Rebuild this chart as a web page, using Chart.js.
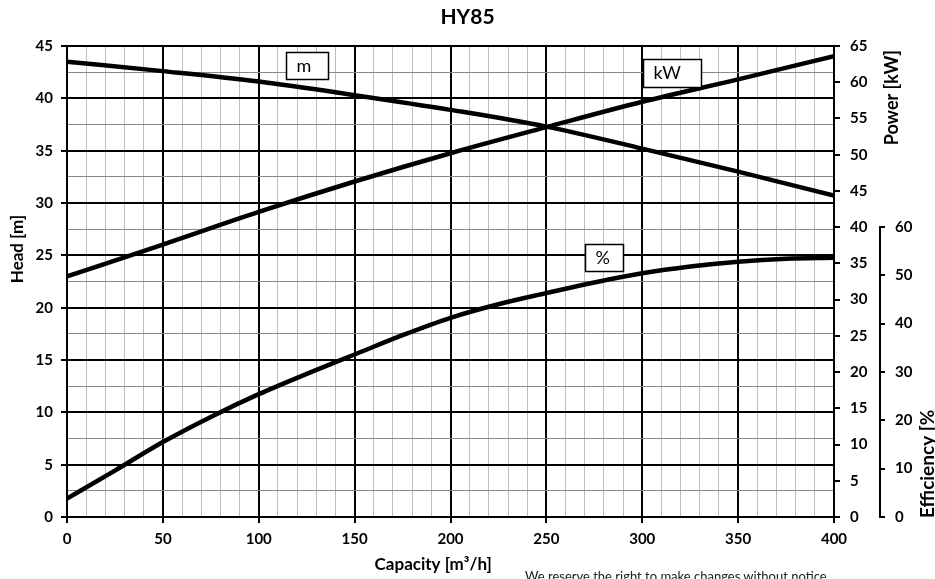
<!DOCTYPE html>
<html>
<head>
<meta charset="utf-8">
<title>HY85</title>
<script src="https://cdn.jsdelivr.net/npm/chart.js@4.4.1/dist/chart.umd.min.js"></script>
<style>
  html, body { margin: 0; padding: 0; background: #fff; overflow: hidden; }
  #wrap { position: relative; width: 935px; height: 579px; }
  #note { position: absolute; left: 525px; top: 568px; font: 13px Lato, sans-serif; color: #222; white-space: nowrap; }
</style>
</head>
<body>
<div id="wrap">
  <canvas id="pumpChart"></canvas>
  <div id="note">We reserve the right to make changes without notice</div>
</div>
<script>
// Pump curve values
const flowPoints  = [0, 50, 100, 150, 200, 250, 300, 350, 400];
const headValues  = [43.5, 42.6, 41.6, 40.3, 38.9, 37.3, 35.2, 33.0, 30.7];
const powerValues = [33.2, 37.6, 42.1, 46.3, 50.2, 53.8, 57.3, 60.4, 63.6];

const effFlowPoints = [0, 25, 50, 75, 100, 125, 150, 175, 200, 225, 250, 275, 300, 325, 350, 375, 400];
const effValues     = [3.8, 9.6, 15.5, 20.7, 25.4, 29.6, 33.6, 37.6, 41.2, 44.0, 46.3, 48.5, 50.4, 51.8, 52.8, 53.4, 53.6];

// tick labels
const flowTickLabels  = [0, 50, 100, 150, 200, 250, 300, 350, 400];
const headTickLabels  = [0, 5, 10, 15, 20, 25, 30, 35, 40, 45];
const powerTickLabels = [0, 5, 10, 15, 20, 25, 30, 35, 40, 45, 50, 55, 60, 65];
const effTickLabels   = [0, 10, 20, 30, 40, 50, 60];

// little boxed curve names (top-left corner in data units of capacity / head)
const curveTags = [
    { text: 'm',  flow: 114.3, head: 44.4, w: 42, h: 27 },
    { text: 'kW', flow: 300.6, head: 43.8, w: 58, h: 28 },
    { text: '%',  flow: 270.2, head: 26.1, w: 38, h: 27 }
];

// the efficiency scale only covers the lower part of the plot
const EFF_AXIS_MAX = 97.4;

Chart.defaults.font.family = 'Lato, "Open Sans", sans-serif';
Chart.defaults.color = '#000';

const toPoints = (xs, ys) => ys.map((v, i) => ({ x: xs[i], y: v }));

const isMajor = (val, step) => Math.abs(val / step - Math.round(val / step)) < 1e-6;

const curveStyle = {
    borderColor: '#000',
    borderWidth: 4.5,
    pointRadius: 0,
    fill: false,
    cubicInterpolationMode: 'monotone'
};

// draws the boxed tags, the short efficiency axis line and the axis titles
const decorPlugin = {
    id: 'decor',
    afterDatasetsDraw(chart) {
        const { ctx, scales } = chart;
        ctx.save();
        curveTags.forEach(t => {
            const px = Math.round(scales.x.getPixelForValue(t.flow)) + 0.5;
            const py = Math.round(scales.head.getPixelForValue(t.head)) + 0.5;
            ctx.fillStyle = '#fff';
            ctx.fillRect(px, py, t.w, t.h);
            ctx.strokeStyle = '#000';
            ctx.lineWidth = 1.5;
            ctx.strokeRect(px, py, t.w, t.h);
            ctx.fillStyle = '#000';
            ctx.font = '18px Lato, sans-serif';
            ctx.textAlign = 'left';
            ctx.textBaseline = 'middle';
            ctx.fillText(t.text, px + 10, py + t.h / 2);
        });
        ctx.restore();
    },
    afterDraw(chart) {
        const { ctx, chartArea, scales } = chart;
        const eff = scales.eff;
        ctx.save();

        // efficiency axis line, 0..60 only
        const top = eff.getPixelForValue(effTickLabels[effTickLabels.length - 1]);
        const bottom = eff.getPixelForValue(0);
        ctx.strokeStyle = '#000';
        ctx.lineWidth = 2;
        ctx.beginPath();
        ctx.moveTo(eff.left + 1, top);
        ctx.lineTo(eff.left + 1, bottom + 1);
        ctx.stroke();

        ctx.fillStyle = '#000';
        ctx.font = 'bold 17px Lato, sans-serif';

        // x title
        ctx.textAlign = 'center';
        ctx.textBaseline = 'middle';
        ctx.fillText('Capacity [m³/h]', scales.x.getPixelForValue(191), chartArea.bottom + 48);

        // head title
        ctx.save();
        ctx.translate(18, scales.head.getPixelForValue(25.6));
        ctx.rotate(-Math.PI / 2);
        ctx.fillText('Head [m]', 0, 0);
        ctx.restore();

        // power title, reads upwards, flush with the top of the plot
        ctx.save();
        ctx.translate(892, chartArea.top + 4);
        ctx.rotate(-Math.PI / 2);
        ctx.textAlign = 'right';
        ctx.font = 'bold 18px Lato, sans-serif';
        ctx.fillText('Power [kW]', 0, 0);
        ctx.restore();

        // efficiency title, flush with the bottom
        ctx.save();
        ctx.translate(934, bottom + 1);
        ctx.rotate(-Math.PI / 2);
        ctx.textAlign = 'left';
        ctx.textBaseline = 'alphabetic';
        ctx.font = 'bold 19px Lato, sans-serif';
        ctx.fillText('Efficiency [%', 0, 0);
        ctx.restore();

        ctx.restore();
    }
};

const tickFont = { size: 15, weight: 'bold' };

new Chart(document.getElementById('pumpChart'), {
    type: 'line',
    data: {
        datasets: [
            { ...curveStyle, label: 'Head', data: toPoints(flowPoints, headValues), yAxisID: 'head' },
            { ...curveStyle, label: 'Power', data: toPoints(flowPoints, powerValues), yAxisID: 'power' },
            { ...curveStyle, label: 'Efficiency', data: toPoints(effFlowPoints, effValues), yAxisID: 'eff' }
        ]
    },
    options: {
        responsive: true,
        maintainAspectRatio: false,
        animation: false,
        layout: { padding: 0 },
        plugins: {
            legend: { display: false },
            tooltip: { enabled: false },
            title: {
                display: true,
                text: 'HY85',
                font: { size: 21, weight: 'bold' },
                color: '#000',
                padding: { top: 5, bottom: 15.8 }
            }
        },
        scales: {
            x: {
                type: 'linear',
                position: 'bottom',
                min: 0,
                max: 400,
                afterFit: s => { s.height = 62; },
                ticks: {
                    stepSize: 10,
                    maxTicksLimit: 100,
                    autoSkip: false,
                    maxRotation: 0,
                    padding: 7,
                    font: tickFont,
                    callback: v => flowTickLabels.includes(v) ? v : ''
                },
                grid: {
                    color: c => isMajor(c.tick.value, 50) ? '#000' : '#bdbdbd',
                    lineWidth: c => isMajor(c.tick.value, 50) ? 2 : 1,
                    tickColor: c => isMajor(c.tick.value, 50) ? '#000' : 'rgba(0,0,0,0)',
                    tickWidth: 2,
                    tickLength: 6
                },
                border: { color: '#000', width: 2 }
            },
            head: {
                type: 'linear',
                position: 'left',
                min: 0,
                max: 45,
                afterFit: s => { s.width = 67; },
                ticks: {
                    stepSize: 2.5,
                    autoSkip: false,
                    padding: 8,
                    font: tickFont,
                    callback: v => headTickLabels.includes(v) ? v : ''
                },
                grid: {
                    color: c => isMajor(c.tick.value, 5) ? '#000' : '#8a8a8a',
                    lineWidth: c => isMajor(c.tick.value, 5) ? 2 : 1,
                    tickColor: c => isMajor(c.tick.value, 5) ? '#000' : 'rgba(0,0,0,0)',
                    tickWidth: 2,
                    tickLength: 6
                },
                border: { color: '#000', width: 2 }
            },
            power: {
                type: 'linear',
                position: 'right',
                weight: 0,
                min: 0,
                max: 65,
                afterFit: s => { s.width = 45; },
                afterBuildTicks: s => { s.ticks = powerTickLabels.map(v => ({ value: v })); },
                ticks: { padding: 10, font: tickFont, autoSkip: false },
                grid: { drawOnChartArea: false, color: '#000', tickLength: 6, lineWidth: 2 },
                border: { color: '#000', width: 2 }
            },
            eff: {
                type: 'linear',
                position: 'right',
                weight: 1,
                min: 0,
                max: EFF_AXIS_MAX,
                afterFit: s => { s.width = 56; },
                afterBuildTicks: s => { s.ticks = effTickLabels.map(v => ({ value: v })); },
                ticks: { padding: 10, font: tickFont, autoSkip: false },
                grid: { drawOnChartArea: false, color: '#000', tickLength: 6, lineWidth: 2 },
                border: { display: false }
            }
        }
    },
    plugins: [decorPlugin]
});
</script>
</body>
</html>
